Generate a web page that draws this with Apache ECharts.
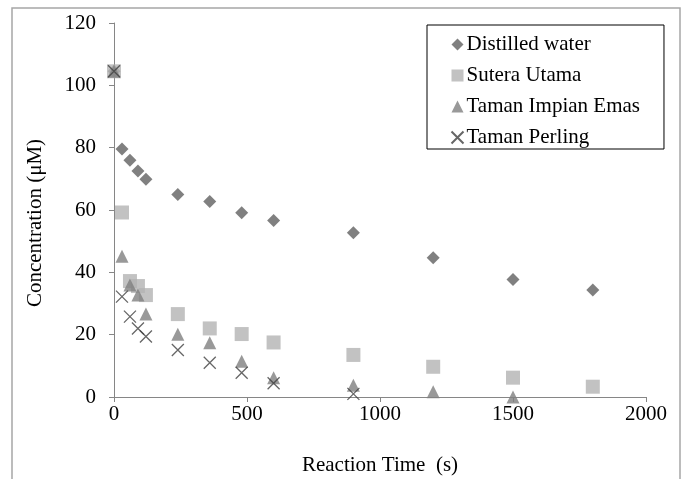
<!DOCTYPE html>
<html lang="en">
<head>
<meta charset="UTF-8">
<title>Concentration vs Reaction Time</title>
<script src="https://cdn.jsdelivr.net/npm/echarts@6/dist/echarts.min.js"></script>
<style>
    html, body { margin: 0; padding: 0; background: #fff; }
    #chart { width: 683px; height: 479px; }
</style>
</head>
<body>
<div id="chart"></div>

<script>
    // reaction time (s)
    const timesAll = [0, 30, 60, 90, 120, 240, 360, 480, 600, 900, 1200, 1500, 1800];
    const distilled = [104.5, 79.6, 76.0, 72.5, 69.9, 65.0, 62.7, 59.1, 56.6, 52.7, 44.7, 37.7, 34.3];
    const suteraUtama = [104.5, 59.2, 37.2, 35.6, 32.7, 26.6, 22.0, 20.2, 17.5, 13.5, 9.7, 6.2, 3.3];
    const tamanImpianTimes = [0, 30, 60, 90, 120, 240, 360, 480, 600, 900, 1200, 1500];
    const tamanImpian = [104.5, 45.2, 35.9, 32.7, 26.6, 20.1, 17.4, 11.5, 6.2, 3.8, 1.7, 0];
    const tamanPerlingTimes = [0, 30, 60, 90, 120, 240, 360, 480, 600, 900];
    const tamanPerling = [104.5, 32.2, 25.8, 22.0, 19.4, 15.1, 11.0, 7.8, 4.4, 1.0];

    const pairs = (xs, ys) => xs.map((x, i) => [x, ys[i]]);
    const font = 'Liberation Serif';

    const chart = echarts.init(document.getElementById('chart'));
    chart.setOption({
        animation: false,
        textStyle: { fontFamily: font },
        graphic: [{
            type: 'rect',
            shape: { x: 12, y: 8, width: 668, height: 480 },
            style: { fill: 'none', stroke: '#a6a6a6', lineWidth: 1.5 },
            silent: true
        }],
        grid: { left: 114, right: 37, top: 23, bottom: 82, outerBoundsMode: 'none' },
        legend: {
            orient: 'vertical',
            left: 427,
            top: 25,
            padding: [9, 24, 1, 22],
            itemGap: 10,
            itemWidth: 12,
            itemHeight: 12,
            borderColor: '#000',
            borderWidth: 1,
            borderRadius: 0,
            backgroundColor: '#fff',
            textStyle: { fontFamily: font, fontSize: 21, color: '#000', lineHeight: 18, padding: [0, 0, 0, -2] },
            data: ['Distilled water', 'Sutera Utama', 'Taman Impian Emas', 'Taman Perling']
        },
        xAxis: {
            type: 'value',
            min: 0, max: 2000, interval: 500,
            name: 'Reaction Time  (s)',
            nameLocation: 'middle',
            nameGap: 58,
            nameTextStyle: { fontFamily: font, fontSize: 21, color: '#000' },
            axisLine: { show: true, lineStyle: { color: '#868686' } },
            axisTick: { show: true, length: 5, lineStyle: { color: '#868686' } },
            axisLabel: { margin: 7, fontFamily: font, fontSize: 21, color: '#000', formatter: v => String(v) },
            splitLine: { show: false }
        },
        yAxis: {
            type: 'value',
            min: 0, max: 120, interval: 20,
            name: 'Concentration (\u03bcM)',
            nameLocation: 'middle',
            nameGap: 68,
            nameTextStyle: { fontFamily: font, fontSize: 21, color: '#000', padding: [0, 26, 0, 0] },
            axisLine: { show: true, lineStyle: { color: '#868686' } },
            axisTick: { show: true, length: 5, lineStyle: { color: '#868686' } },
            axisLabel: { margin: 18, fontFamily: font, fontSize: 21, color: '#000' },
            splitLine: { show: false }
        },
        series: [
            {
                name: 'Distilled water',
                type: 'scatter',
                symbol: 'diamond',
                symbolSize: 13,
                itemStyle: { color: '#606060' },
                data: pairs(timesAll, distilled)
            },
            {
                name: 'Sutera Utama',
                type: 'scatter',
                symbol: 'rect',
                symbolSize: 14,
                itemStyle: { color: '#b3b3b3' },
                data: pairs(timesAll, suteraUtama)
            },
            {
                name: 'Taman Impian Emas',
                type: 'scatter',
                symbol: 'triangle',
                symbolSize: 13,
                itemStyle: { color: '#808080' },
                data: pairs(tamanImpianTimes, tamanImpian)
            },
            {
                name: 'Taman Perling',
                type: 'scatter',
                symbol: 'path://M0,0L10,10M10,0L0,10',
                symbolSize: 12,
                itemStyle: { color: 'none', borderColor: '#404040', borderWidth: 1.3 },
                data: pairs(tamanPerlingTimes, tamanPerling)
            }
        ]
    });
</script>
</body>
</html>
